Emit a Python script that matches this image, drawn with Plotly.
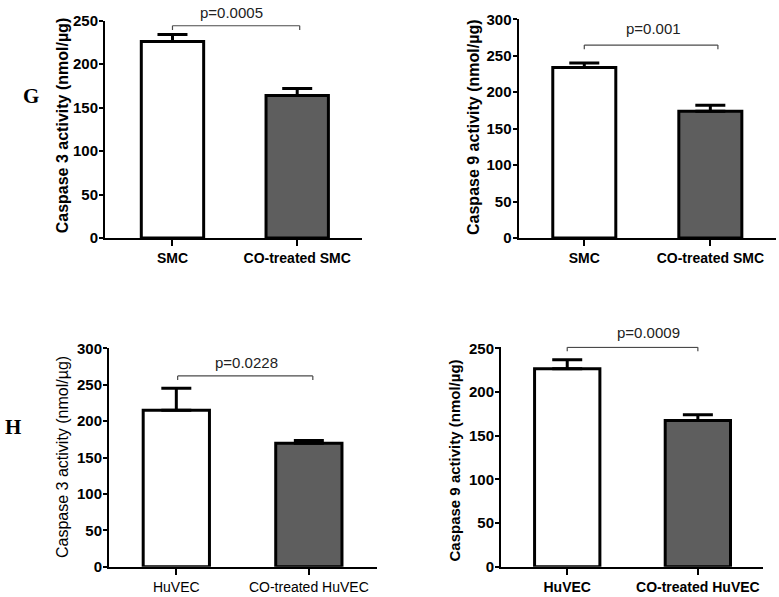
import plotly.graph_objects as go

# ---------------- data ----------------
cat_smc = ["SMC", "CO-treated SMC"]
cat_huvec = ["HuVEC", "CO-treated HuVEC"]

casp3_smc = [226, 164]
casp3_smc_err = [8, 8]
casp9_smc = [234, 174]
casp9_smc_err = [6, 8]
casp3_huvec = [215, 169.5]
casp3_huvec_err = [30, 4]
casp9_huvec = [226.5, 167.5]
casp9_huvec_err = [10.5, 6.5]

pvals = ["p=0.0005", "p=0.001", "p=0.0228", "p=0.0009"]
ytitles = ["Caspase 3 activity (nmol/µg)", "Caspase 9 activity (nmol/µg)",
           "Caspase 3 activity (nmol/µg)", "Caspase 9 activity (nmol/µg)"]
yticks_a = [0, 50, 100, 150, 200, 250]
yticks_b = [0, 50, 100, 150, 200, 250, 300]

bar_colors = ["white", "#5e5e5e"]

W, H = 779, 597
SANS = "Liberation Sans, Arial, sans-serif"
SERIF = "Liberation Serif, Times New Roman, serif"

panels = [
    dict(v=casp3_smc, e=casp3_smc_err, c=cat_smc, t=yticks_a, yr=[0, 250],
         xd=(105, 361.7), yd=(238, 20.7), xr=[-0.541, 1.517], bold=True,
         br=(0, 1.02, 244.2, 239.3), pt=(0.475, 12.3), ti=(63.3, 125, 16)),
    dict(v=casp9_smc, e=casp9_smc_err, c=cat_smc, t=yticks_b, yr=[0, 300],
         xd=(518.5, 776), yd=(238, 19.3), xr=[-0.522, 1.521], bold=True,
         br=(0, 1.06, 264.7, 258.8), pt=(0.553, 28.3), ti=(473.3, 126.7, 16)),
    dict(v=casp3_huvec, e=casp3_huvec_err, c=cat_huvec, t=yticks_b, yr=[0, 300],
         xd=(109, 376.7), yd=(566.7, 348.3), xr=[-0.508, 1.512], bold=False,
         br=(0.01, 1.03, 262, 256.5), pt=(0.53, 362.7), ti=(62.5, 457.5, 16)),
    dict(v=casp9_huvec, e=casp9_huvec_err, c=cat_huvec, t=yticks_a, yr=[0, 252],
         xd=(501, 763.3), yd=(566.7, 346.6), xr=[-0.507, 1.501], bold=True,
         br=(0, 1.0, 251.2, 246.8), pt=(0.62, 332.3), ti=(454, 460.5, 15)),
]

fig = go.Figure()
shapes = []
annotations = []

for i, p in enumerate(panels):
    n = "" if i == 0 else str(i + 1)
    xa, ya = "x" + n, "y" + n
    fig.add_trace(go.Bar(
        x=p["c"], y=p["v"], xaxis=xa, yaxis=ya, width=0.5,
        marker=dict(color=bar_colors, line=dict(color="black", width=3)),
        error_y=dict(type="data", symmetric=False, array=p["e"], arrayminus=[0, 0],
                     color="black", thickness=3, width=15),
        showlegend=False, cliponaxis=False,
    ))
    w_bold = "bold" if p["bold"] else "normal"
    xkey, ykey = "xaxis" + n, "yaxis" + n
    fig.layout[xkey] = dict(
        domain=[p["xd"][0] / W, p["xd"][1] / W], anchor=ya, range=p["xr"],
        type="category", showline=True, linewidth=2, linecolor="black",
        ticks="outside", ticklen=6, tickwidth=2, tickcolor="black",
        showgrid=False, zeroline=False, automargin=False,
        tickfont=dict(family=SANS, size=14, color="black", weight=w_bold),
    )
    fig.layout[ykey] = dict(
        domain=[1 - p["yd"][0] / H, 1 - p["yd"][1] / H], anchor=xa, range=p["yr"],
        tickvals=p["t"], showline=True, linewidth=2, linecolor="black",
        ticks="outside", ticklen=4, tickwidth=2, tickcolor="black",
        ticklabelstandoff=-2,
        showgrid=False, zeroline=False, automargin=False,
        tickfont=dict(family=SANS, size=15, color="black", weight="bold"),
    )
    x0, x1, yb, yd = p["br"]
    lc = dict(color="#4a4a4a", width=1.2)
    shapes += [
        dict(type="line", xref=xa, yref=ya, x0=x0, x1=x1, y0=yb, y1=yb, line=lc),
        dict(type="line", xref=xa, yref=ya, x0=x0, x1=x0, y0=yb, y1=yd, line=lc),
        dict(type="line", xref=xa, yref=ya, x0=x1, x1=x1, y0=yb, y1=yd, line=lc),
    ]
    annotations.append(dict(
        text=pvals[i], xref=xa, yref="paper", x=p["pt"][0], y=1 - p["pt"][1] / H,
        showarrow=False, xanchor="center", yanchor="middle",
        font=dict(family=SANS, size=15, color="#222222"),
    ))
    tx, ty, ts = p["ti"]
    annotations.append(dict(
        text=ytitles[i], xref="paper", yref="paper", x=tx / W, y=1 - ty / H,
        showarrow=False, textangle=-90, xanchor="center", yanchor="middle",
        font=dict(family=SANS, size=ts, color="black", weight=w_bold),
    ))

annotations.append(dict(text="G", xref="paper", yref="paper", x=30.8 / W, y=1 - 96 / H,
                        showarrow=False, xanchor="center", yanchor="middle",
                        font=dict(family=SERIF, size=21, color="black", weight="bold")))
annotations.append(dict(text="H", xref="paper", yref="paper", x=13.3 / W, y=1 - 426.7 / H,
                        showarrow=False, xanchor="center", yanchor="middle",
                        font=dict(family=SERIF, size=21, color="black", weight="bold")))

fig.update_layout(
    template="none",
    width=W, height=H, autosize=False,
    margin=dict(l=0, r=0, t=0, b=0, pad=0),
    paper_bgcolor="white", plot_bgcolor="white",
    shapes=shapes, annotations=annotations,
)

fig.write_html("out.html", config={"displayModeBar": False},
               post_script="document.body.style.margin='0px';")
